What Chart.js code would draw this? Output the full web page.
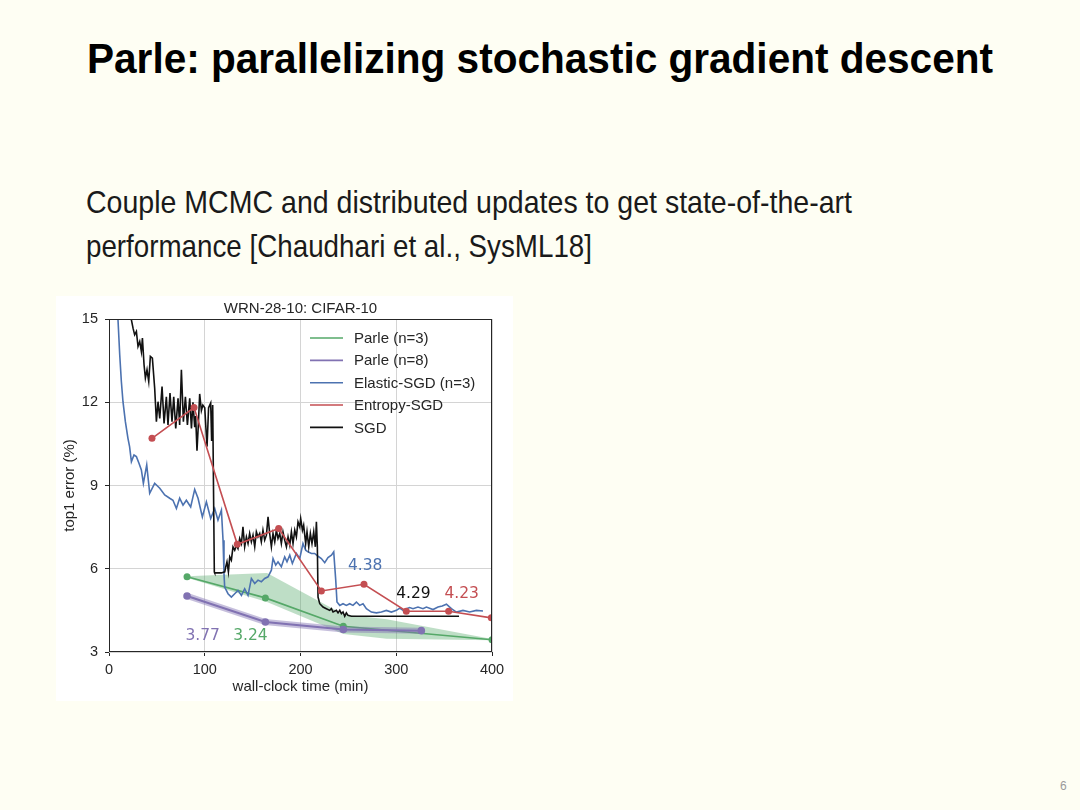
<!DOCTYPE html>
<html><head><meta charset="utf-8">
<script src="https://cdn.jsdelivr.net/npm/chart.js@4.4.1/dist/chart.umd.min.js"></script>
<style>
html,body{margin:0;padding:0;}
body{width:1080px;height:810px;background:#fefef3;position:relative;overflow:hidden;font-family:'Liberation Sans',Arial,sans-serif;}
.t{position:absolute;white-space:nowrap;line-height:1;transform-origin:0 0;}
#title{left:87px;top:37px;font-size:43px;font-weight:bold;color:#000;}
#l1{left:86px;top:186px;font-size:32px;color:#1a1a1a;}
#l2{left:86px;top:230px;font-size:32px;color:#1a1a1a;}
#pg{left:1060px;top:780px;font-size:12px;color:#9a9a9a;}
#panel{position:absolute;left:56px;top:296px;width:457px;height:405px;background:#fff;}
#c{position:absolute;left:57px;top:296px;}
</style></head>
<body>
<div class="t" id="title" data-w="906">Parle: parallelizing stochastic gradient descent</div>
<div class="t" id="l1" data-w="766">Couple MCMC and distributed updates to get state-of-the-art</div>
<div class="t" id="l2" data-w="506">performance [Chaudhari et al., SysML18]</div>
<div class="t" id="pg">6</div>
<div id="panel"></div>
<canvas id="c" width="455" height="404"></canvas>
<script>
// ---------- data ----------
const chartTitle = 'WRN-28-10: CIFAR-10';
const xTicks = [0, 100, 200, 300, 400];
const yTicks = [3, 6, 9, 12, 15];
const seriesNames = ['Parle (n=3)', 'Parle (n=8)', 'Elastic-SGD (n=3)', 'Entropy-SGD', 'SGD'];

const parle3X = [81.5, 163.3, 244.7, 400];
const parle3Y = [5.71, 4.95, 3.93, 3.44];
const bandX = [81.5, 165, 245, 290, 400];
const bandUpper = [5.73, 5.85, 4.35, 4.18, 3.47];
const bandLower = [5.68, 4.80, 3.65, 3.48, 3.42];

const parle8X = [81.5, 163.3, 244.7, 326.2];
const parle8Y = [5.02, 4.08, 3.81, 3.77];

const entropyX = [44.9, 88.8, 134.0, 177.2, 221.8, 266.3, 310.5, 354.7, 399.3];
const entropyY = [10.70, 11.81, 6.88, 7.45, 5.20, 5.44, 4.47, 4.47, 4.23];

const elasticX = [9.0,9.4,11.2,12.9,14.6,17.1,19.8,21.5,23.4,26.1,28.6,31.3,33.8,35.9,39.4,42.5,47.7,53.0,58.2,63.4,66.8,70.4,73.8,77.3,80.8,85.3,89.5,93.0,97.5,101.7,106.2,110.4,113.8,117.4,119.1,120.1,120.8,124.3,127.8,131.3,134.7,138.3,141.7,145.2,148.7,152.2,155.6,159.1,162.6,166.1,169.6,171.3,174.1,176.5,180.0,183.5,185.9,188.8,191.5,195.7,199.2,202.6,205.4,207.8,211.4,214.8,218.3,221.8,225.3,228.7,232.3,234.7,236.8,238.1,241.0,244.4,247.9,251.4,254.8,258.4,261.8,265.3,268.8,274.0,279.3,284.5,289.7,294.9,300.2,303.6,307.1,310.6,314.0,317.5,322.7,327.9,331.5,338.4,343.6,348.0,352.4,357.6,362.8,369.7,376.7,383.7,390.6];
const elasticY = [15.3,14.97,13.71,12.75,12.02,11.30,10.70,10.4,9.86,10.10,10.04,9.80,9.56,9.08,9.74,8.72,9.08,8.90,8.66,8.54,8.47,8.17,8.54,8.29,8.47,8.23,8.86,8.54,7.87,8.41,7.81,8.17,7.75,8.11,7.03,5.83,5.34,5.10,4.98,5.10,5.22,5.04,5.28,5.04,5.65,5.47,5.59,5.53,5.65,5.71,5.95,6.37,6.13,6.25,6.07,6.43,6.25,6.49,6.19,6.55,6.37,6.91,6.67,6.61,6.55,6.55,6.45,6.37,6.22,6.40,6.49,6.61,5.59,4.80,4.68,4.74,4.68,4.74,4.68,4.80,4.68,4.74,4.56,4.44,4.41,4.44,4.50,4.44,4.50,4.58,4.50,4.56,4.60,4.56,4.62,4.56,4.62,4.53,4.62,4.66,4.72,4.56,4.44,4.50,4.44,4.50,4.48];

const sgdX = [22.0,23.4,25.1,26.8,28.6,30.3,32.1,33.8,34.9,36.6,38.0,39.7,41.5,43.2,45.3,47.7,49.5,51.2,53.0,55.4,57.5,59.9,61.6,63.7,65.8,67.6,69.7,72.1,73.8,75.6,77.7,79.8,81.9,84.3,86.1,87.7,89.5,90.5,91.9,93.3,94.7,96.5,98.0,100.0,101.5,102.4,104.0,106.2,107.2,108.3,110.0,110.4,117.3,120.9,121.9,123.2,124.7,126.1,127.8,129.5,131.3,133.1,134.7,136.5,138.3,139.9,141.7,143.5,145.2,146.9,148.7,150.4,152.2,153.9,155.6,157.4,159.1,160.8,162.6,164.4,166.1,167.8,169.6,171.3,173.1,174.8,176.5,178.3,180.0,181.7,183.5,185.3,187.0,188.8,190.5,192.2,194.0,195.7,197.4,199.2,200.2,202.0,203.3,205.4,206.8,208.6,210.3,212.0,213.8,215.5,216.6,217.6,218.3,220.1,223.5,227.0,230.5,232.3,234.0,237.5,239.2,241.0,242.7,244.4,246.2,247.9,249.6,253.2,365.6];
const sgdY = [15.5,14.97,14.67,14.43,14.55,14.01,14.19,13.83,14.31,13.35,12.87,13.17,12.75,13.65,13.59,12.51,11.30,12.02,11.42,12.57,11.24,12.20,11.18,12.33,11.30,12.20,11.06,12.14,11.18,13.17,11.30,12.20,11.18,12.14,11.06,12.0,11.1,11.5,10.25,11.2,12.3,11.7,11.9,11.8,10.9,10.4,11.8,11.97,10.6,11.9,5.88,5.85,5.85,5.89,6.07,6.25,5.89,6.43,6.31,6.79,6.67,6.85,6.73,7.09,6.91,7.51,6.79,7.15,6.91,7.27,6.97,7.21,6.79,7.33,7.15,7.27,6.97,7.39,7.03,7.21,7.87,7.27,6.79,7.27,6.97,7.39,7.09,7.27,6.91,7.33,7.03,6.79,7.15,6.85,7.33,6.91,7.39,7.15,7.69,7.51,7.81,7.39,7.57,6.91,7.33,6.79,7.27,6.91,7.33,6.79,7.69,6.79,4.98,4.74,4.62,4.56,4.50,4.56,4.44,4.50,4.41,4.50,4.38,4.44,4.29,4.41,4.32,4.29,4.29];

// final-value annotations (text, data x, data y of baseline)
const noteText = ['4.38', '4.29', '4.23', '3.77', '3.24'];
const noteX = [267.6, 317.9, 368.3, 97.8, 147.7];
const noteY = [5.95, 4.96, 4.96, 3.45, 3.45];

// ---------- styling ----------
const C = {green:'#55a868', purple:'#8172b2', blue:'#4c72b0', red:'#c44e52', black:'#111111'};
const noteColor = [C.blue, C.black, C.red, C.purple, C.green];
const legendColor = [C.green, C.purple, C.blue, C.red, C.black];
const ink = '#262626';
const FAM = "'Liberation Sans', Arial, sans-serif";

const pts = (xs, ys) => xs.map((v, i) => ({x: v, y: ys[i]}));

const deco = {
  id: 'deco',
  afterDatasetsDraw(chart) {
    const {ctx, chartArea: ca, scales: {x, y}} = chart;
    ctx.save();
    // frame
    ctx.strokeStyle = ink; ctx.lineWidth = 1;
    ctx.strokeRect(Math.round(ca.left) + 0.5, Math.round(ca.top) + 0.5,
                   Math.round(ca.right - ca.left) - 1, Math.round(ca.bottom - ca.top) - 1);
    // title
    ctx.fillStyle = ink; ctx.font = '15px ' + FAM;
    ctx.textAlign = 'center'; ctx.textBaseline = 'alphabetic';
    ctx.fillText(chartTitle, (ca.left + ca.right) / 2, ca.top - 6);
    // annotations
    ctx.font = "15.5px 'DejaVu Sans', sans-serif";
    noteText.forEach((t, i) => {
      ctx.fillStyle = noteColor[i];
      ctx.fillText(t, x.getPixelForValue(noteX[i]), y.getPixelForValue(noteY[i]));
    });
    // legend
    ctx.font = '15px ' + FAM; ctx.textAlign = 'left'; ctx.textBaseline = 'middle';
    seriesNames.forEach((n, i) => {
      const yy = ca.top + 19 + i * 22.35;
      ctx.strokeStyle = legendColor[i]; ctx.lineWidth = 1.6;
      ctx.beginPath(); ctx.moveTo(ca.right - 182, yy); ctx.lineTo(ca.right - 149, yy); ctx.stroke();
      ctx.fillStyle = ink;
      ctx.fillText(n, ca.right - 138, yy + 1);
    });
    ctx.restore();
  }
};

const line = (label, data, color, extra) => Object.assign({
  label, data, borderColor: color, backgroundColor: color, borderWidth: 1.6,
  pointRadius: 0, pointBorderWidth: 0, tension: 0, fill: false
}, extra || {});

new Chart(document.getElementById('c'), {
  type: 'line',
  data: {
    datasets: [
      line('bandLower', pts(bandX, bandLower), 'rgba(0,0,0,0)', {borderWidth: 0, order: 10}),
      line('bandUpper', pts(bandX, bandUpper), 'rgba(0,0,0,0)', {borderWidth: 0, order: 9,
        fill: {target: 0}, backgroundColor: 'rgba(85,168,104,0.38)'}),
      line(seriesNames[0], pts(parle3X, parle3Y), C.green, {pointRadius: 3.5, order: 8}),
      line('p8band', pts(parle8X, parle8Y), 'rgba(129,114,178,0.45)', {borderWidth: 6, order: 7}),
      line(seriesNames[1], pts(parle8X, parle8Y), C.purple, {pointRadius: 3.8, borderWidth: 2, order: 6}),
      line(seriesNames[2], pts(elasticX, elasticY), C.blue, {order: 5}),
      line(seriesNames[4], pts(sgdX, sgdY), C.black, {order: 4}),
      line(seriesNames[3], pts(entropyX, entropyY), C.red, {pointRadius: 3.5, order: 3})
    ]
  },
  options: {
    responsive: false, animation: false, devicePixelRatio: 1,
    layout: {padding: {left: 0, right: 20, top: 23, bottom: 0}},
    plugins: {legend: {display: false}, tooltip: {enabled: false}},
    scales: {
      x: {
        type: 'linear', min: 0, max: 400,
        afterBuildTicks: s => { s.ticks = xTicks.map(v => ({value: v})); },
        ticks: {padding: 5, color: ink, maxRotation: 0, font: {family: FAM, size: 14.5}},
        grid: {color: '#d4d4d4', tickLength: 4, tickColor: ink, lineWidth: 1},
        border: {display: false},
        title: {display: true, text: 'wall-clock time (min)', color: ink,
                font: {family: FAM, size: 15}, padding: {top: 0, bottom: 4}},
        afterFit: s => { s.height = 48; }
      },
      y: {
        type: 'linear', min: 3, max: 15,
        afterBuildTicks: s => { s.ticks = yTicks.map(v => ({value: v})); },
        ticks: {padding: 7, color: ink, font: {family: FAM, size: 14.5}},
        grid: {color: '#d4d4d4', tickLength: 4, tickColor: ink, lineWidth: 1},
        border: {display: false},
        title: {display: true, text: 'top1 error (%)', color: ink,
                font: {family: FAM, size: 15}, padding: {top: 4, bottom: 0}},
        afterFit: s => { s.width = 52; }
      }
    }
  },
  plugins: [deco]
});

// fit slide text widths
document.querySelectorAll('.t[data-w]').forEach(el => {
  const w = el.getBoundingClientRect().width;
  el.style.transform = 'scaleX(' + (parseFloat(el.dataset.w) / w) + ')';
});
</script>
</body></html>
